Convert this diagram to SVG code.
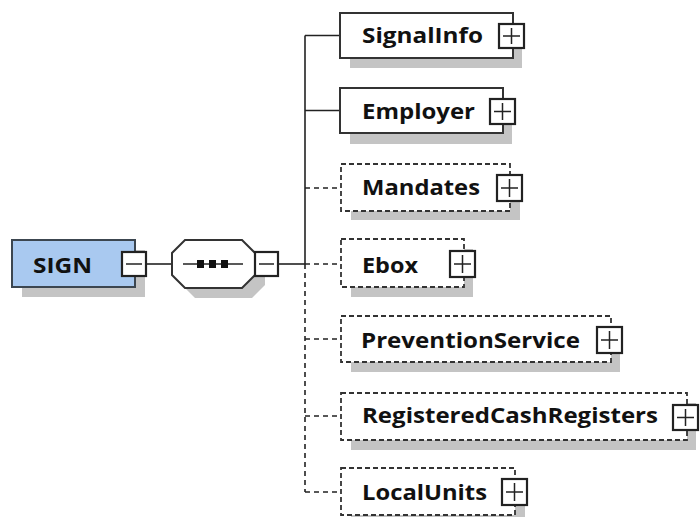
<svg xmlns="http://www.w3.org/2000/svg" width="700" height="517" viewBox="0 0 700 517">
<style>
.shadow{fill:#c4c4c4;stroke:none}
.box{fill:#ffffff;stroke:#333333;stroke-width:2}
.opt{fill:#ffffff;stroke:#333333;stroke-width:1.8;stroke-dasharray:5 3}
.root{fill:#a9c9f0;stroke:#3c4650;stroke-width:2}
.pm{fill:#ffffff;stroke:#222222;stroke-width:2.2}
.pl{stroke:#222222;stroke-width:1.5;fill:none}
.lbl{font-family:"Open Sans","Noto Sans","DejaVu Sans",sans-serif;font-weight:bold;font-size:21px;fill:#111111}
.con{stroke:#222222;stroke-width:1.6;fill:none}
.dash{stroke-dasharray:5 4}
</style>
<rect width="700" height="517" fill="#ffffff"/>
<g id="connectors">
<line class="con" x1="147" y1="264" x2="172" y2="264"/>
<line class="con" x1="278" y1="264" x2="305" y2="264"/>
<line class="con" x1="305" y1="35.5" x2="305" y2="264"/>
<line class="con dash" x1="305" y1="264" x2="305" y2="492"/>
<line class="con" x1="305" y1="35.5" x2="340" y2="35.5"/>
<line class="con" x1="305" y1="110.5" x2="340" y2="110.5"/>
<line class="con dash" x1="305" y1="188" x2="341" y2="188"/>
<line class="con dash" x1="305" y1="264" x2="341" y2="264"/>
<line class="con dash" x1="305" y1="339" x2="341" y2="339"/>
<line class="con dash" x1="305" y1="416" x2="341" y2="416"/>
<line class="con dash" x1="305" y1="492" x2="341" y2="492"/>
</g>
<g id="SIGN">
<rect class="shadow" x="22" y="250" width="123" height="47"/>
<rect class="root" x="12" y="240" width="123" height="47"/>
<text class="lbl" x="33" y="273" textLength="59" lengthAdjust="spacingAndGlyphs">SIGN</text>
<rect class="pm" x="122" y="252" width="24" height="24"/>
<line class="pl" x1="126" y1="264" x2="142" y2="264"/>
</g>
<g id="sequence">
<polygon class="shadow" points="195,250 252,250 265,263 265,285 252,298 195,298 182,285 182,263"/>
<polygon fill="#ffffff" stroke="#333333" stroke-width="2" points="185,240 242,240 255,253 255,275 242,288 185,288 172,275 172,253"/>
<line class="con" x1="183" y1="264" x2="243" y2="264"/>
<rect x="197" y="260" width="7" height="8" fill="#111111"/>
<rect x="209" y="260" width="7" height="8" fill="#111111"/>
<rect x="221" y="260" width="7" height="8" fill="#111111"/>
<rect class="pm" x="255" y="252" width="23" height="24"/>
<line class="pl" x1="259" y1="264" x2="274" y2="264"/>
</g>
<g id="SignalInfo">
<rect class="shadow" x="350" y="23" width="172" height="45"/>
<rect class="box" x="340" y="13" width="173" height="45"/>
<text class="lbl" x="362" y="43" textLength="121" lengthAdjust="spacingAndGlyphs">SignalInfo</text>
<rect class="pm" x="499" y="24" width="25" height="24"/>
<path class="pl" d="M511.5,28V44M503,36H520"/>
</g>
<g id="Employer">
<rect class="shadow" x="350" y="98" width="162" height="46"/>
<rect class="box" x="340" y="88" width="163" height="45"/>
<text class="lbl" x="362" y="119" textLength="113" lengthAdjust="spacingAndGlyphs">Employer</text>
<rect class="pm" x="490" y="99" width="25" height="25"/>
<path class="pl" d="M502.5,103V120M494,111.5H511"/>
</g>
<g id="Mandates">
<rect class="shadow" x="351" y="174" width="169" height="46"/>
<rect class="opt" x="341" y="164" width="169" height="47"/>
<text class="lbl" x="362" y="195" textLength="118" lengthAdjust="spacingAndGlyphs">Mandates</text>
<rect class="pm" x="497" y="175" width="25" height="26"/>
<path class="pl" d="M509.5,179V197M501,188H518"/>
</g>
<g id="Ebox">
<rect class="shadow" x="351" y="249" width="122" height="48"/>
<rect class="opt" x="341" y="239" width="123" height="48"/>
<text class="lbl" x="362" y="273" textLength="56" lengthAdjust="spacingAndGlyphs">Ebox</text>
<rect class="pm" x="450" y="251" width="25" height="26"/>
<path class="pl" d="M462.5,255V273M454,264H471"/>
</g>
<g id="PreventionService">
<rect class="shadow" x="351" y="326" width="269" height="46"/>
<rect class="opt" x="341" y="316" width="270" height="46"/>
<text class="lbl" x="361" y="348" textLength="219" lengthAdjust="spacingAndGlyphs">PreventionService</text>
<rect class="pm" x="597" y="327" width="25" height="26"/>
<path class="pl" d="M609.5,331V349M601,340H618"/>
</g>
<g id="RegisteredCashRegisters">
<rect class="shadow" x="351" y="403" width="345" height="47"/>
<rect class="opt" x="341" y="393" width="346" height="47"/>
<text class="lbl" x="362" y="423" textLength="296" lengthAdjust="spacingAndGlyphs">RegisteredCashRegisters</text>
<rect class="pm" x="673" y="405" width="25" height="25"/>
<path class="pl" d="M685.5,409V426M677,417.5H694"/>
</g>
<g id="LocalUnits">
<rect class="shadow" x="351" y="478" width="174" height="45"/>
<rect class="opt" x="341" y="468" width="174" height="47"/>
<text class="lbl" x="362" y="500" textLength="125" lengthAdjust="spacingAndGlyphs">LocalUnits</text>
<rect class="pm" x="502" y="479" width="25" height="26"/>
<path class="pl" d="M514.5,483V501M506,492H523"/>
</g>
</svg>
